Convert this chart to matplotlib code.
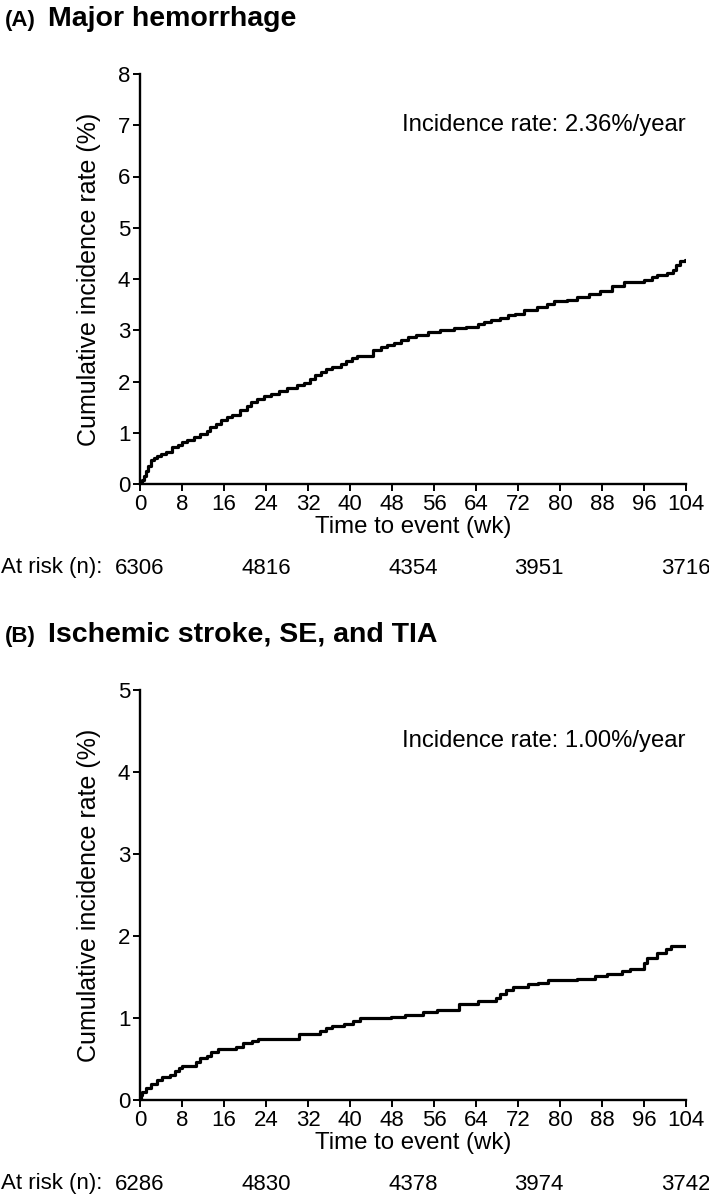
import matplotlib
matplotlib.use("Agg")
import matplotlib.pyplot as plt
from matplotlib.transforms import blended_transform_factory

# --- data ---
weeks_a = [0, 0.3, 0.7, 1.1, 1.5, 2.0, 2.6, 3.3, 4.0, 5.0, 6.1, 7.2, 8.0, 9.0, 10.2, 11.5,
           12.7, 13.3, 14.5, 15.5, 16.5, 17.5, 19.1, 20.3, 21.2, 22.3, 23.6, 25.0, 26.4,
           28.0, 29.9, 31.3, 32.4, 33.3, 34.4, 35.5, 36.5, 38.2, 39.3, 40.4, 41.4, 44.3,
           45.9, 47.0, 48.4, 49.7, 51.0, 52.5, 54.9, 57.1, 59.9, 62.0, 64.3, 65.5, 66.9,
           68.5, 70.0, 71.5, 73.2, 75.7, 77.6, 78.9, 81.4, 83.3, 85.5, 87.7, 89.9, 92.1,
           96.0, 97.5, 98.5, 100.4, 101.6, 102.0, 102.9, 103.8]
cum_a = [0, 0.08, 0.15, 0.25, 0.35, 0.46, 0.50, 0.55, 0.59, 0.62, 0.72, 0.76, 0.82, 0.86,
         0.92, 0.98, 1.04, 1.12, 1.18, 1.24, 1.30, 1.35, 1.45, 1.53, 1.60, 1.66, 1.71,
         1.75, 1.82, 1.87, 1.93, 1.98, 2.05, 2.12, 2.19, 2.24, 2.29, 2.35, 2.40, 2.45,
         2.49, 2.62, 2.68, 2.72, 2.76, 2.81, 2.86, 2.91, 2.96, 3.00, 3.05, 3.07, 3.12,
         3.16, 3.20, 3.24, 3.29, 3.32, 3.39, 3.45, 3.52, 3.57, 3.59, 3.64, 3.70, 3.76,
         3.86, 3.95, 3.98, 4.03, 4.08, 4.12, 4.18, 4.27, 4.35, 4.38]

weeks_b = [0, 0.2, 0.4, 1.1, 2.0, 3.3, 4.1, 5.8, 6.7, 7.5, 8.0, 10.6, 11.4, 12.7, 13.6,
           14.9, 18.3, 19.6, 21.3, 22.5, 25.2, 30.3, 34.2, 35.5, 36.5, 38.9, 40.6, 41.9,
           47.9, 50.5, 53.9, 56.5, 60.8, 64.3, 67.8, 68.5, 69.8, 71.0, 73.9, 75.8, 77.8,
           83.2, 86.7, 88.9, 91.8, 93.4, 96.0, 96.6, 98.5, 100.1, 101.1, 104.0]
cum_b = [0, 0.06, 0.10, 0.15, 0.20, 0.24, 0.28, 0.31, 0.35, 0.39, 0.42, 0.46, 0.51, 0.54,
         0.59, 0.62, 0.65, 0.69, 0.72, 0.74, 0.75, 0.81, 0.84, 0.88, 0.90, 0.93, 0.96,
         1.00, 1.01, 1.04, 1.07, 1.10, 1.17, 1.21, 1.25, 1.29, 1.34, 1.38, 1.41, 1.43,
         1.46, 1.48, 1.51, 1.54, 1.57, 1.60, 1.67, 1.73, 1.79, 1.84, 1.88, 1.88]

at_risk_weeks = [0, 24, 52, 76, 104]
at_risk_a = [6306, 4816, 4354, 3951, 3716]
at_risk_b = [6286, 4830, 4378, 3974, 3742]

x_ticks = list(range(0, 105, 8))

panels = [
    ("(A)", "Major hemorrhage", weeks_a, cum_a, 8, "Incidence rate: 2.36%/year", at_risk_a),
    ("(B)", "Ischemic stroke, SE, and TIA", weeks_b, cum_b, 5, "Incidence rate: 1.00%/year", at_risk_b),
]

plt.rcParams['font.family'] = ['Liberation Sans', 'DejaVu Sans']

W, H = 709, 1195
fig = plt.figure(figsize=(W / 100, H / 100), dpi=100)

def fy(px):
    return 1 - px / H

ax_left, ax_right = 140, 686
offsets = [0, 616]

for (tag, title, wk, cum, ymax, rate, risk), off in zip(panels, offsets):
    top, bottom = 74 + off, 484 + off
    ax = fig.add_axes([ax_left / W, fy(bottom), (ax_right - ax_left) / W, (bottom - top) / H])
    ax.plot(wk + [104], cum + [cum[-1]], drawstyle='steps-post', color='black', lw=2.3)
    ax.set_xlim(0, 104)
    ax.set_ylim(0, ymax)
    ax.set_xticks(x_ticks)
    ax.set_yticks(range(0, ymax + 1))
    for s in ['top', 'right']:
        ax.spines[s].set_visible(False)
    for s in ['left', 'bottom']:
        ax.spines[s].set_linewidth(1.7)
    ax.tick_params(direction='out', length=5, width=1.4, labelsize=16, pad=2)
    ax.set_xlabel('Time to event (wk)', fontsize=17.3, labelpad=1)
    ax.set_ylabel('Cumulative incidence rate (%)', fontsize=18, labelpad=12)
    ax.text(104, ymax * 0.875, rate, ha='right', va='center', fontsize=17.2)

    # at-risk row
    tr = blended_transform_factory(ax.transData, fig.transFigure)
    y_risk = fy(568 + off)
    fig.text(1 / W, y_risk, 'At risk (n):', ha='left', va='center', fontsize=16)
    for w, n in zip(at_risk_weeks, risk):
        ax.text(w, y_risk, str(n), ha='center', va='center', fontsize=16,
                transform=tr, clip_on=False)

    # panel title
    fig.text(5 / W, fy(26 + off), tag, ha='left', va='baseline', fontsize=16,
             fontweight='bold')
    fig.text(48 / W, fy(26 + off), title, ha='left', va='baseline', fontsize=20.5,
             fontweight='bold')

fig.savefig('out.png', dpi=100)
